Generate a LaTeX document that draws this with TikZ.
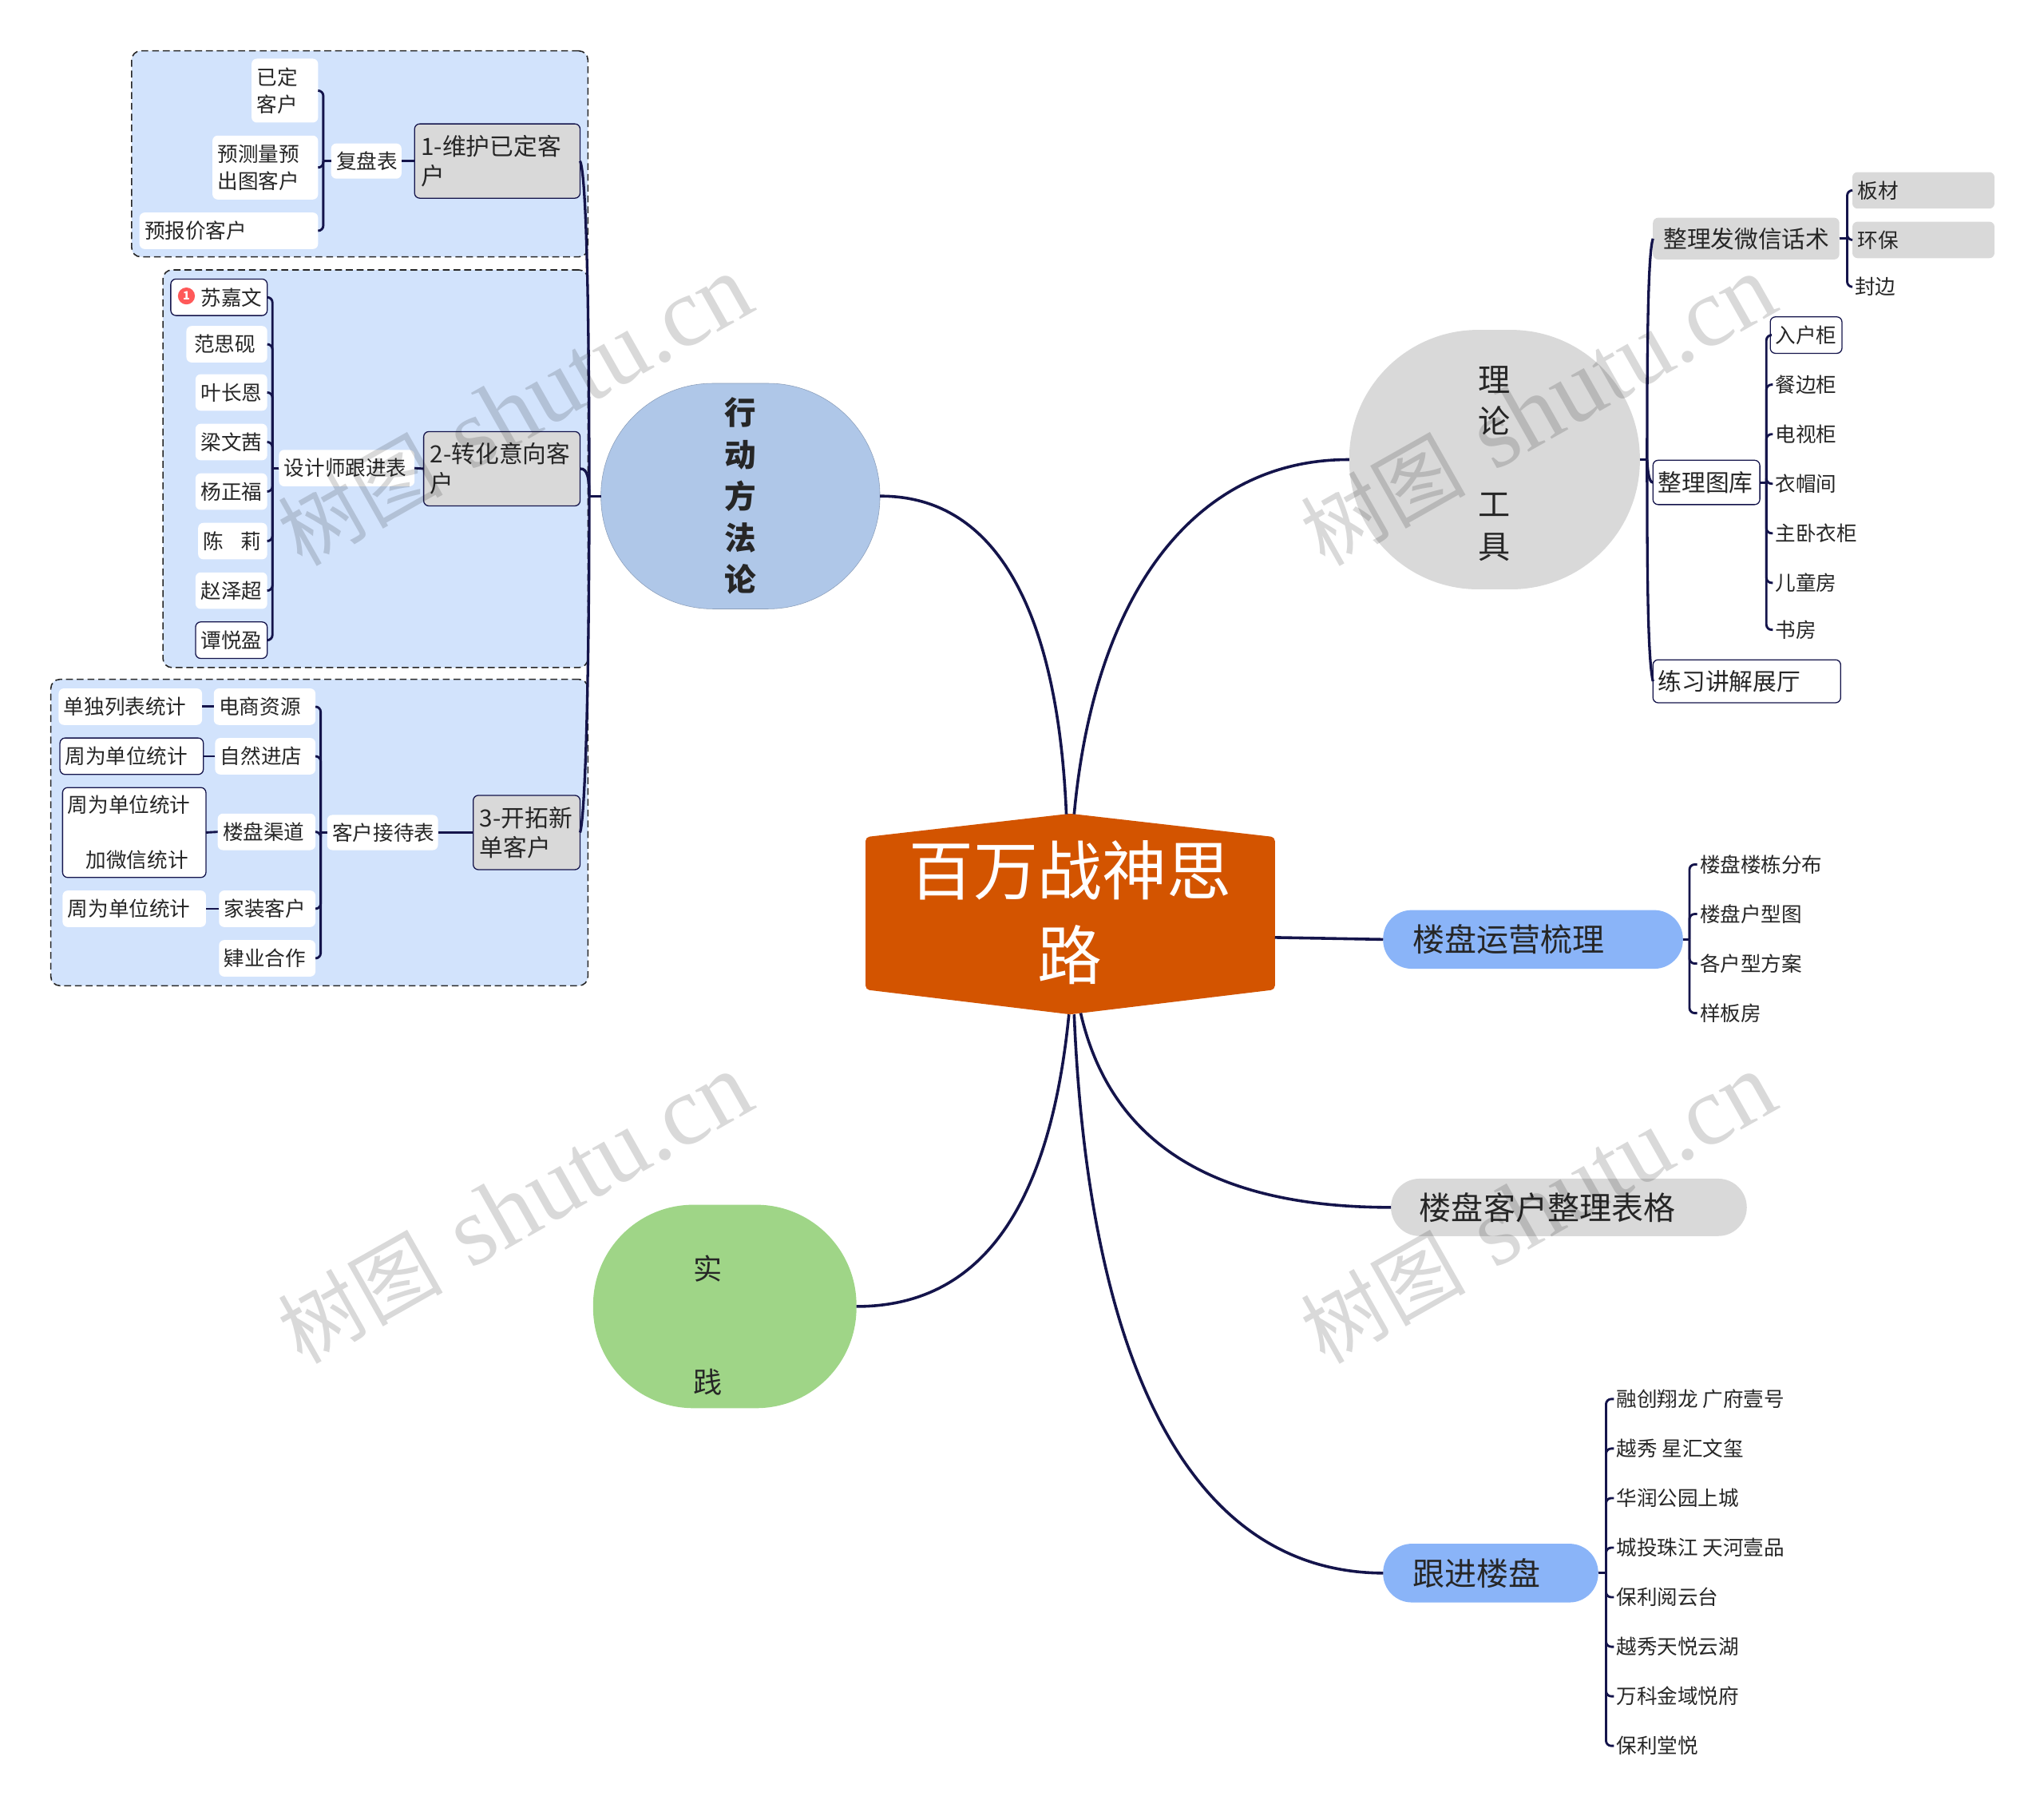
\documentclass[tikz,border=0pt]{standalone}
\usepackage{fontspec}
\setmainfont{Noto Sans CJK SC}
\newfontfamily\wmlatin{Liberation Serif}
\usetikzlibrary{calc}
\newlength\uu \setlength\uu{0.02cm}
\definecolor{navy}{HTML}{14144B}
\definecolor{ink}{HTML}{262626}
\definecolor{grp}{HTML}{D2E3FC}
\definecolor{hexc}{HTML}{D35400}
\definecolor{topblue}{HTML}{8AB4F8}
\definecolor{actblue}{HTML}{AFC7E8}
\definecolor{grn}{HTML}{9FD587}
\definecolor{lgray}{HTML}{D9D9D9}
\newcommand{\fsS}{\fontsize{8.92pt}{11.95pt}\selectfont}
\newcommand{\fsM}{\fontsize{10.36pt}{12.9pt}\selectfont}
\newcommand{\fsL}{\fontsize{13.95pt}{17pt}\selectfont}
\tikzset{
  base/.style={inner ysep=0pt,inner xsep=4\uu,outer sep=0pt,align=left,text=ink,font=\fsS},
  whitebox/.style={base,fill=white,rounded corners=4\uu},
  outbox/.style={base,fill=white,draw=navy,line width=0.45pt,rounded corners=4\uu},
  graybox/.style={base,fill=lgray,rounded corners=4\uu},
  sub/.style={base,font=\fsM,fill=lgray,draw=navy,line width=0.45pt,rounded corners=4\uu},
  midgray/.style={base,font=\fsM,fill=lgray,rounded corners=4\uu},
  midout/.style={base,font=\fsM,fill=white,draw=navy,line width=0.45pt,rounded corners=4\uu},
  topic/.style={base,font=\fsL},
  groupbox/.style={base,fill=grp,draw=black!85,line width=0.55pt,dash pattern=on 3pt off 1.7pt,rounded corners=7\uu},
  leaf/.style={inner ysep=0pt,inner xsep=2\uu,outer sep=0pt,text=ink,font=\fsS,anchor=west},
  link/.style={draw=navy,line width=1pt,rounded corners=4\uu},
  stem/.style={draw=navy,line width=1.15pt},
  mainc/.style={draw=navy,line width=1.25pt},
  wm/.style={rotate=29.5,opacity=0.15,text=black,inner sep=0pt}
}
% style, name, x0, y0, x1, y1, text
\newcommand{\bx}[7]{%
  \pgfmathsetmacro\bxcx{(#3+#5)/2}%
  \pgfmathsetmacro\bxcy{(#4+#6)/2}%
  \pgfmathsetlengthmacro\bxw{(#5-#3)*0.02cm}%
  \pgfmathsetlengthmacro\bxh{(#6-#4)*0.02cm}%
  \pgfmathsetlengthmacro\bxt{(#5-#3-8)*0.02cm}%
  \node[#1,minimum width=\bxw,minimum height=\bxh,text width=\bxt] (#2) at (\bxcx,\bxcy) {#7};%
}
\newcommand{\lf}[4]{\node[leaf] (#1) at (#2,#3) {#4};}
\newcommand{\lnk}[3]{\coordinate (brk) at (#2,0); \draw[link,rounded corners=0pt] (#1) -- (#1 -| brk); \draw[link] (#1 -| brk) -- (#3 -| brk) -- (#3);}
\begin{document}
\begin{tikzpicture}[x=0.02cm,y=-0.02cm]
\useasboundingbox (0,0) rectangle (1568,1392.8);
% group panels
\bx{groupbox}{g1}{101}{39}{451}{197}{}
\bx{groupbox}{g2}{125}{207}{451}{512}{}
\bx{groupbox}{g3}{39}{521}{451}{756}{}
% centre
\fill[hexc,rounded corners=3\uu] (664,642) -- (821,624) -- (978,642) -- (978,759) -- (821,778) -- (664,759) -- cycle;
\node[inner sep=0pt,outer sep=0pt,minimum width=314\uu,minimum height=154\uu,align=center,text=white,font=\fontsize{28.2pt}{37pt}\selectfont] (ctr) at (821,700) {百万战神思\\路};
\coordinate (ctrNW) at (818,624.5);
\coordinate (ctrNE) at (824,624.5);
\coordinate (ctrE) at (978,719);
\coordinate (ctrS) at (820,778);
\coordinate (ctrS2) at (824,778);
\coordinate (ctrS3) at (829,777);
% main topics
\node[outer sep=0pt,inner sep=0pt,fill=actblue,draw=actblue!80!black,line width=0.2pt,rounded corners=86\uu,minimum width=214\uu,minimum height=173\uu,align=center,text=ink,font=\fontsize{13.8pt}{18.2pt}\selectfont\bfseries] (fa) at (568,380.5) {行\\动\\方\\法\\论};
\node[outer sep=0pt,inner sep=0pt,fill=lgray,rounded corners=99\uu,minimum width=223\uu,minimum height=199\uu] (ll) at (1146.5,352.5) {};
\node[inner sep=0pt,align=center,text=ink,font=\fontsize{14pt}{18.2pt}\selectfont] (llt) at (1146.5,355.5) {理\\论\\~\\工\\具};
\node[outer sep=0pt,inner sep=0pt,fill=grn,rounded corners=77\uu,minimum width=202\uu,minimum height=156\uu] (sj) at (556,1002) {};
\node[inner sep=0pt,text=ink,font=\fontsize{12.6pt}{14pt}\selectfont] (sj1) at (543,973) {实};
\node[inner sep=0pt,text=ink,font=\fontsize{12.6pt}{14pt}\selectfont] (sj2) at (543,1060) {践};
\bx{topic,fill=topblue,rounded corners=22\uu}{ly}{1061}{698}{1291}{743}{\hspace*{19\uu}楼盘运营梳理}
\bx{topic,fill=lgray,rounded corners=22\uu}{lk}{1067}{904}{1340}{948}{\hspace*{18\uu}楼盘客户整理表格}
\bx{topic,fill=topblue,rounded corners=22\uu}{gj}{1061}{1184}{1226}{1229}{\hspace*{19\uu}跟进楼盘}
% 1
\bx{sub}{a1}{318}{95}{445}{152}{\hspace*{1\uu}1-维护已定客\\\hspace*{1\uu}户}
\bx{whitebox}{a2}{254}{110}{308}{137}{复盘表}
\bx{whitebox}{a3}{193}{45}{244}{94}{已定\\客户}
\bx{whitebox}{a4}{163}{104}{244}{153}{预测量预\\出图客户}
\bx{whitebox}{a5}{107}{163}{244}{191}{预报价客户}
% 2
\bx{sub}{b1}{325}{331}{445}{388}{\hspace*{1\uu}2-转化意向客\\\hspace*{1\uu}户}
\bx{whitebox}{b2}{214}{345}{318}{373}{设计师跟进表}
\bx{outbox}{b3}{131}{214}{205}{242}{\hspace*{19\uu}苏嘉文}
\node[circle,fill=red!65!white,inner sep=0pt,minimum size=13\uu,text=white,font=\bfseries\fontsize{5pt}{5.5pt}\selectfont] (badge) at (143,227) {1};
\bx{whitebox}{b4}{143}{250}{205}{278}{\hspace*{2\uu}范思砚}
\bx{whitebox}{b5}{150}{287}{205}{315}{叶长恩}
\bx{whitebox}{b6}{150}{325}{205}{353}{梁文茜}
\bx{whitebox}{b7}{150}{363}{205}{391}{杨正福}
\bx{whitebox}{b8}{152}{401}{205}{429}{陈\hspace{13\uu}莉}
\bx{whitebox}{b9}{150}{439}{205}{467}{赵泽超}
\bx{outbox}{b10}{150}{477}{205}{505}{谭悦盈}
% 3
\bx{sub}{c1}{363}{610}{445}{667}{\hspace*{1\uu}3-开拓新\\\hspace*{1\uu}单客户}
\bx{whitebox}{c2}{251}{625}{336}{652}{客户接待表}
\bx{whitebox}{c3}{164}{528}{242}{556}{电商资源}
\bx{whitebox}{c4}{165}{566}{242}{594}{自然进店}
\bx{whitebox}{c5}{167}{624}{242}{652}{楼盘渠道}
\bx{whitebox}{c6}{168}{683}{242}{711}{家装客户}
\bx{whitebox}{c7}{168}{721}{242}{749}{肄业合作}
\bx{whitebox}{d3}{45}{528}{155}{556}{单独列表统计}
\bx{outbox}{d4}{46}{566}{156}{594}{周为单位统计}
\bx{outbox}{d5}{48}{604}{158}{673}{周为单位统计\\~\\\hspace*{14\uu}加微信统计}
\bx{whitebox}{d6}{48}{683}{158}{711}{周为单位统计}
% theory
\bx{midgray}{e1}{1268}{167}{1411}{199}{\hspace*{4\uu}整理发微信话术}
\bx{midout}{e2}{1268}{353}{1350}{387}{整理图库}
\bx{midout}{e3}{1268}{506}{1412}{539}{练习讲解展厅}
\bx{graybox}{e4}{1421}{132}{1530}{160}{板材}
\bx{graybox}{e5}{1421}{170}{1530}{198}{环保}
\lf{e6}{1421}{220}{封边}
\bx{outbox}{f1}{1358}{243}{1413}{271}{入户柜}
\lf{f2}{1360}{295}{餐边柜}
\lf{f3}{1360}{333}{电视柜}
\lf{f4}{1360}{371}{衣帽间}
\lf{f5}{1360}{409}{主卧衣柜}
\lf{f6}{1360}{447}{儿童房}
\lf{f7}{1360}{483}{书房}
% operations
\lf{h1}{1302}{663}{楼盘楼栋分布}
\lf{h2}{1302}{701}{楼盘户型图}
\lf{h3}{1302}{739}{各户型方案}
\lf{h4}{1302}{777}{样板房}
% projects
\lf{k1}{1238}{1073}{融创翔龙 广府壹号}
\lf{k2}{1238}{1111}{越秀 星汇文玺}
\lf{k3}{1238}{1149}{华润公园上城}
\lf{k4}{1238}{1187}{城投珠江 天河壹品}
\lf{k5}{1238}{1225}{保利阅云台}
\lf{k6}{1238}{1263}{越秀天悦云湖}
\lf{k7}{1238}{1301}{万科金域悦府}
\lf{k8}{1238}{1339}{保利堂悦}
% main connectors
\draw[mainc] (ctrNW) .. controls (812,480) and (770,380) .. (fa.east);
\draw[mainc] (ctrNE) .. controls (840,450) and (920,352) .. (ll.west);
\draw[mainc] (ctrE) -- (ly.west);
\draw[mainc] (ctrS3) .. controls (855,890) and (950,926) .. (lk.west);
\draw[mainc] (ctrS2) .. controls (835,1040) and (910,1206) .. (gj.west);
\draw[mainc] (ctrS) .. controls (805,930) and (750,1002) .. (sj.east);
% left trunk
\coordinate (lt) at (452,380.5);
\draw[stem] (fa.west) -- (lt);
\draw[stem] (lt) .. controls (452,240) and (450,135) .. (a1.east);
\draw[stem] (lt) .. controls (452,368) and (451,359) .. (b1.east);
\draw[stem] (lt) .. controls (452,520) and (449,625) .. (c1.east);
% right trunk
\coordinate (rt) at (1263.5,352.5);
\draw[stem] (ll.east) -- (rt);
\draw[stem] (rt) .. controls (1263.5,270) and (1264,195) .. (e1.west);
\draw[stem] (rt) .. controls (1264,362) and (1265,370) .. (e2.west);
\draw[stem] (rt) .. controls (1263.5,440) and (1264,505) .. (e3.west);
% small brackets
\draw[link] (a1.west) -- (a2.east);
\foreach \ch in {a3,a4,a5} {\lnk{a2.west}{248}{\ch.east}}
\draw[link] (b1.west) -- (b2.east);
\foreach \ch in {b3,b4,b5,b6,b7,b8,b9,b10} {\lnk{b2.west}{209}{\ch.east}}
\draw[link] (c1.west) -- (c2.east);
\foreach \ch in {c3,c4,c5,c6,c7} {\lnk{c2.west}{246}{\ch.east}}
\draw[link] (c3.west) -- (d3.east);
\draw[link] (c4.west) -- (d4.east);
\draw[link] (c5.west) -- (d5.east);
\draw[link] (c6.west) -- (d6.east);
\foreach \ch in {e4,e5,e6} {\lnk{e1.east}{1417}{\ch.west}}
\foreach \ch in {f1,f2,f3,f4,f5,f6,f7} {\lnk{e2.east}{1355}{\ch.west}}
\foreach \ch in {h1,h2,h3,h4} {\lnk{ly.east}{1296}{\ch.west}}
\foreach \ch in {k1,k2,k3,k4,k5,k6,k7,k8} {\lnk{gj.east}{1232}{\ch.west}}
% watermarks
\foreach \wx/\wy/\wn in {395/315/w1,1180/315/w2,395/927/w3,1180/927/w4}{
  \node[wm] (\wn) at (\wx,\wy) {\fontsize{36pt}{38pt}\selectfont 树图\hspace{0.35em}{\wmlatin\fontsize{43pt}{44pt}\selectfont shutu.cn}};
}
\end{tikzpicture}
\end{document}
